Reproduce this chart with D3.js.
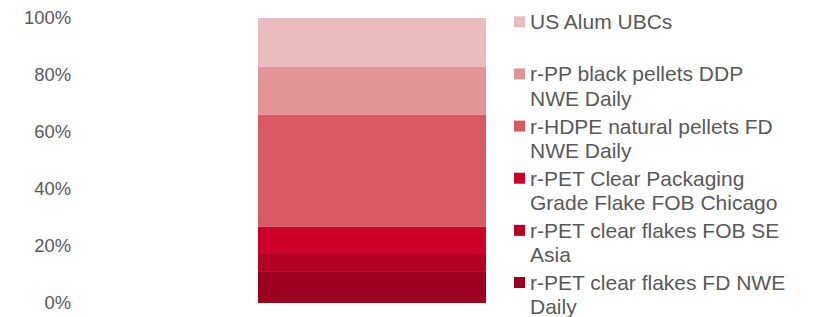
<!DOCTYPE html>
<html>
<head>
<meta charset="utf-8">
<script src="https://cdn.jsdelivr.net/npm/d3@7"></script>
<style>
  body { margin: 0; background: #fff; }
  text { font-family: "Liberation Sans", Arial, sans-serif; fill: #595959; }
</style>
</head>
<body>
<svg id="chart"></svg>
<script>
// Chart size
const width = 813;
const height = 317;

// Data (bottom to top of the stacked bar)
const categories = [""];
const seriesNames = [
    "r-PET clear flakes FD NWE Daily",
    "r-PET clear flakes FOB SE Asia",
    "r-PET Clear Packaging Grade Flake FOB Chicago",
    "r-HDPE natural pellets FD NWE Daily",
    "r-PP black pellets DDP NWE Daily",
    "US Alum UBCs"
];
const seriesValues = [0.109, 0.063, 0.095, 0.393, 0.168, 0.172];
const seriesColors = ["#9c001e", "#b30024", "#cc0029", "#da5a64", "#e39497", "#ebbcbd"];
// legend lines as wrapped in the reference
const legendLines = [
    ["r-PET clear flakes FD NWE", "Daily"],
    ["r-PET clear flakes FOB SE", "Asia"],
    ["r-PET Clear Packaging", "Grade Flake FOB Chicago"],
    ["r-HDPE natural pellets FD", "NWE Daily"],
    ["r-PP black pellets DDP", "NWE Daily"],
    ["US Alum UBCs"]
];
const tickValues = [0, 0.2, 0.4, 0.6, 0.8, 1];

const svg = d3.select("#chart")
    .attr("width", width)
    .attr("height", height);

const row = {};
seriesNames.forEach((s, i) => row[s] = seriesValues[i]);
const stacked = d3.stack().keys(seriesNames)([row]);

const y = d3.scaleLinear().domain([0, 1]).range([303, 18]);
const x = d3.scaleBand().domain(categories).range([144, 600]).paddingInner(0).paddingOuter(0.5);
const color = d3.scaleOrdinal().domain(seriesNames).range(seriesColors);

// Y axis labels (no line, no ticks)
const yAxis = svg.append("g")
    .attr("transform", "translate(71,0)")
    .call(d3.axisLeft(y).tickValues(tickValues).tickFormat(d3.format(".0%")).tickSize(0).tickPadding(0));
yAxis.select(".domain").remove();
yAxis.selectAll("text")
    .attr("fill", "#595959")
    .style("font-size", "18.4px")
    .style("font-family", "'Liberation Sans', Arial, sans-serif");

// Stacked bar
svg.append("g")
    .selectAll("rect")
    .data(stacked)
    .join("rect")
        .attr("x", x(""))
        .attr("width", x.bandwidth())
        .attr("y", d => y(d[0][1]))
        .attr("height", d => y(d[0][0]) - y(d[0][1]))
        .attr("fill", d => color(d.key));

// Legend, top item first
const legendY = d3.scalePoint().domain(seriesNames.slice().reverse()).range([29.3, 290]);
const legend = svg.append("g")
    .selectAll("g")
    .data(seriesNames)
    .join("g")
        .attr("transform", d => `translate(514,${legendY(d)})`);

legend.append("rect")
    .attr("x", 0)
    .attr("y", -13)
    .attr("width", 11)
    .attr("height", 11)
    .attr("fill", d => color(d));

legend.append("text")
    .attr("x", 16)
    .style("font-size", "21px")
    .selectAll("tspan")
    .data((d, i) => legendLines[i])
    .join("tspan")
        .attr("x", 16)
        .attr("dy", (d, i) => i === 0 ? 0 : 24.3)
        .text(d => d);
</script>
</body>
</html>
